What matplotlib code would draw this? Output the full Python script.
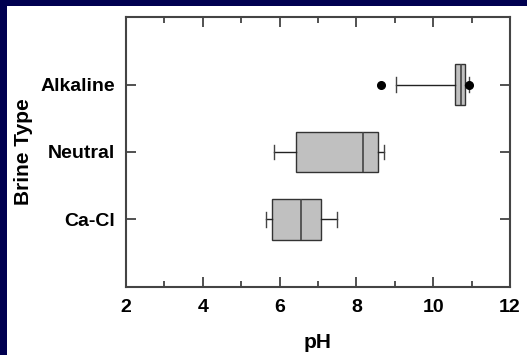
import numpy as np
import matplotlib.pyplot as plt
from matplotlib.patches import Rectangle
from matplotlib.ticker import MultipleLocator

# ============================================================
# DATA
# ============================================================
categories = ['Ca-Cl', 'Neutral', 'Alkaline']
q1       = [5.80, 6.42, 10.57]
median   = [6.55, 8.16, 10.72]
q3       = [7.09, 8.57, 10.84]
whislo   = [5.65, 5.85, 9.02]
whishi   = [7.50, 8.71, 10.94]
fliers   = [[], [], [8.65, 10.94]]

W, H = 527, 355
plt.rcParams['font.family'] = ['Liberation Sans', 'DejaVu Sans']
plt.rcParams['font.weight'] = 'bold'

fig = plt.figure(figsize=(W / 100, H / 100), dpi=100)
fig.patch.set_facecolor('#000050')
panel = Rectangle((7 / W, 0), 1 - 7 / W, 1 - 6 / H,
                  transform=fig.transFigure, facecolor='white',
                  edgecolor='none', zorder=-10)
fig.add_artist(panel)

left, right, top, bottom = 126, 510, 17.3, 286.7
ax = fig.add_axes([left / W, 1 - bottom / H, (right - left) / W, (bottom - top) / H])
ax.set_zorder(1)

stats = []
for i, name in enumerate(categories):
    stats.append(dict(label=name, q1=q1[i], med=median[i], q3=q3[i],
                      whislo=whislo[i], whishi=whishi[i], fliers=fliers[i]))

line_col = '#333333'
ax.bxp(stats, positions=[1, 2, 3], orientation='horizontal', widths=0.6,
       capwidths=0.22, patch_artist=True, showfliers=True,
       boxprops=dict(facecolor='#c0c0c0', edgecolor=line_col, linewidth=1.0),
       medianprops=dict(color='#444444', linewidth=1.2),
       whiskerprops=dict(color='#222222', linewidth=1.0),
       capprops=dict(color='#444444', linewidth=1.0),
       flierprops=dict(marker='o', markerfacecolor='black',
                       markeredgecolor='black', markersize=5.5))

ax.set_xlim(2, 12)
ax.set_ylim(0, 4)
ax.set_yticks([1, 2, 3])
ax.set_yticklabels(categories)
ax.xaxis.set_major_locator(MultipleLocator(2))
ax.xaxis.set_minor_locator(MultipleLocator(1))

ax.tick_params(axis='both', which='major', direction='in', length=7,
               width=1.2, color='#333333', labelsize=14,
               top=True, right=True)
ax.tick_params(axis='x', which='minor', direction='in', length=4,
               width=1.2, color='#333333', top=True)
ax.tick_params(axis='x', which='major', pad=9)
ax.tick_params(axis='y', pad=8)
for lab in ax.get_xticklabels() + ax.get_yticklabels():
    lab.set_fontweight('bold')

for sp in ax.spines.values():
    sp.set_color('#444444')
    sp.set_linewidth(1.5)

ax.set_xlabel('pH', fontsize=15, fontweight='bold', labelpad=12)
ax.set_ylabel('Brine Type', fontsize=15, fontweight='bold')
ax.yaxis.set_label_coords(-0.243, 0.5)

plt.savefig('out.png', dpi=100, facecolor=fig.get_facecolor())
